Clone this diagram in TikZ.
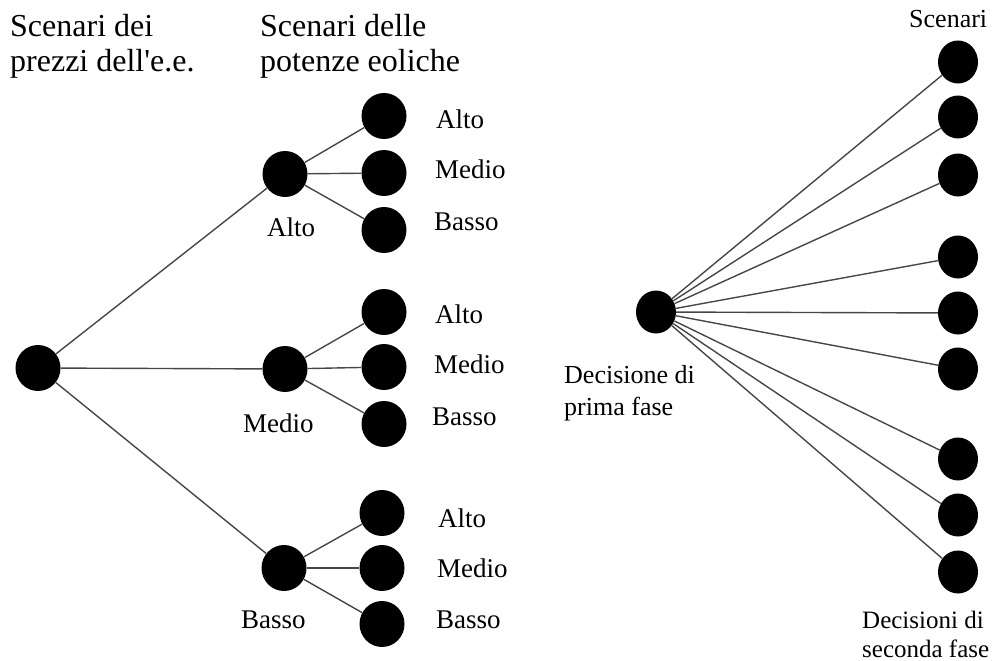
\documentclass[tikz,border=0pt]{standalone}
\usepackage{fontspec}
\setmainfont{Liberation Serif}[Ligatures=TeXOff]
\usetikzlibrary{shapes.geometric}
\begin{document}
\begin{tikzpicture}[x=1pt,y=-1pt,
  dot/.style={ellipse,fill=black,draw=none,inner sep=0pt,minimum width=45pt,minimum height=46pt},
  rdot/.style={ellipse,fill=black,draw=none,inner sep=0pt,minimum width=40pt,minimum height=43pt},
  lnk/.style={draw=black!72,line width=1.4pt},
  title/.style={inner sep=0pt,anchor=base west,font=\fontsize{32}{36}\selectfont},
  lbl/.style={inner sep=0pt,anchor=base west,font=\fontsize{27}{31}\selectfont},
  rlbl/.style={inner sep=0pt,anchor=base west,font=\fontsize{26}{30}\selectfont},
  blbl/.style={inner sep=0pt,anchor=base west,font=\fontsize{25}{29}\selectfont}]
\useasboundingbox (0,0) rectangle (996,661);
% titles
\node[title] (t1a) at (10,37) {Scenari dei};
\node[title] (t1b) at (10,72) {prezzi dell'e.e.};
\node[title] (t2a) at (260,37) {Scenari delle};
\node[title] (t2b) at (260,72) {potenze eoliche};
% left tree nodes
\node[dot] (r) at (38,368) {};
\node[dot] (a) at (285,174) {};
\node[dot] (m) at (285,369) {};
\node[dot] (b) at (284,568) {};
\node[dot] (aa) at (384,116) {};
\node[dot] (am) at (384,173) {};
\node[dot] (ab) at (384,230) {};
\node[dot] (ma) at (384,312) {};
\node[dot] (mm) at (384,367) {};
\node[dot] (mb) at (384,424) {};
\node[dot] (ba) at (382,513) {};
\node[dot] (bm) at (382,568) {};
\node[dot] (bb) at (382,624) {};
% left edges
\foreach \s/\t in {r/a,r/m,r/b,a/aa,a/am,a/ab,m/ma,m/mm,m/mb,b/ba,b/bm,b/bb}
  \draw[lnk] (\s) -- (\t);
% left labels
\node[lbl] (la) at (267,236) {Alto};
\node[lbl] (lm) at (243,432) {Medio};
\node[lbl] (lb) at (241,628) {Basso};
\node[lbl] (laa) at (436,128) {Alto};
\node[lbl] (lam) at (435,178) {Medio};
\node[lbl] (lab) at (434,230) {Basso};
\node[lbl] (lma) at (435,323) {Alto};
\node[lbl] (lmm) at (434,373) {Medio};
\node[lbl] (lmb) at (432,425) {Basso};
\node[lbl] (lba) at (438,527) {Alto};
\node[lbl] (lbm) at (437,577) {Medio};
\node[lbl] (lbb) at (436,628) {Basso};
% right fan
\node[rdot] (c) at (656,312) {};
\foreach \i/\y in {1/62,2/117,3/175,4/257,5/313,6/369,7/459,8/515,9/572}
  \node[rdot] (s\i) at (958,\y) {};
\foreach \i in {1,...,9}
  \draw[lnk] (c) -- (s\i);
% right labels
\node[rlbl] (ls) at (909,28) {Scenari};
\node[rlbl] (ld1) at (564,383) {Decisione di};
\node[rlbl] (ld2) at (564,415) {prima fase};
\node[blbl] (le1) at (862,628) {Decisioni di};
\node[blbl] (le2) at (862,657) {seconda fase};
\end{tikzpicture}
\end{document}
